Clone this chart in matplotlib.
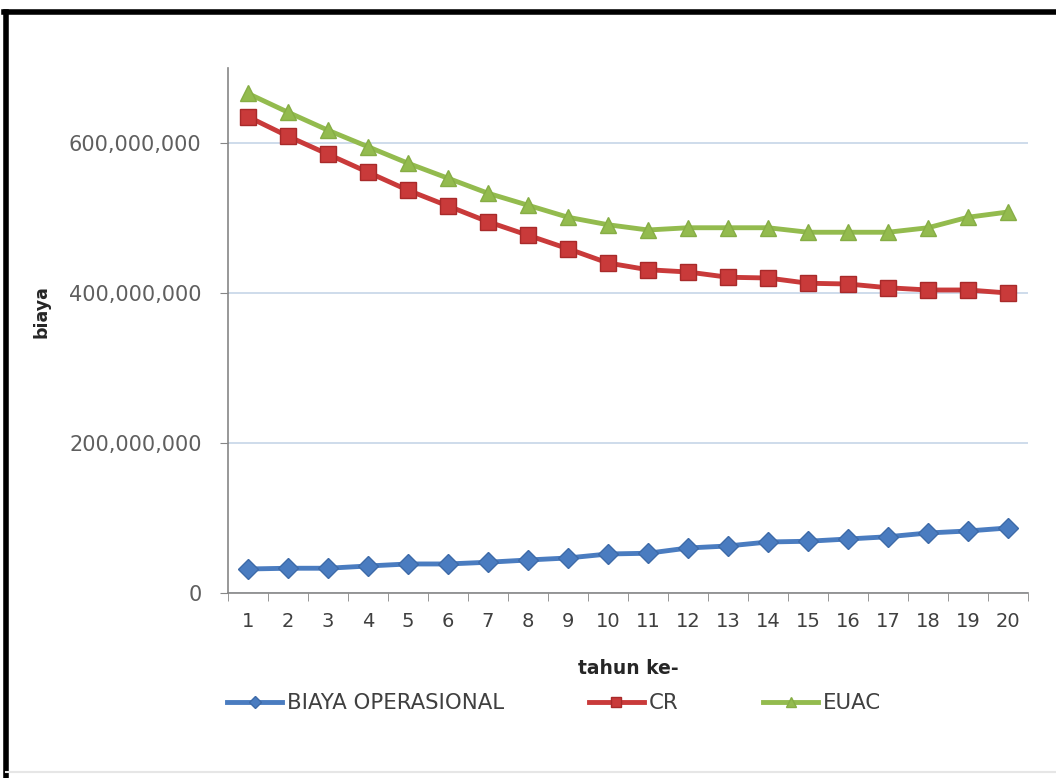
import matplotlib
matplotlib.use("Agg")
import matplotlib.pyplot as plt
from matplotlib.lines import Line2D
from matplotlib.ticker import FuncFormatter, MultipleLocator

# data (rupiah)
tahun = list(range(1, 21))
biaya_operasional = [32e6, 33e6, 33e6, 36e6, 38.7e6, 38.7e6, 41e6, 44e6, 46.7e6, 52e6,
                     53e6, 60e6, 62.7e6, 68e6, 69e6, 72e6, 75e6, 80e6, 82.7e6, 86.7e6]
cr = [635e6, 609e6, 585e6, 561e6, 537e6, 516e6, 495e6, 477e6, 459e6, 440e6,
      431e6, 428e6, 421e6, 420e6, 413e6, 412e6, 407e6, 404e6, 404e6, 400e6]
euac = [666e6, 641e6, 617e6, 595e6, 573e6, 553e6, 533e6, 517e6, 501e6, 491e6,
        484e6, 487e6, 487e6, 487e6, 481e6, 481e6, 481e6, 487e6, 501e6, 508e6]

fig = plt.figure(figsize=(10.56, 7.78), dpi=100)
ax = fig.add_axes([0.2159, 0.2378, 0.9735 - 0.2159, 0.9126 - 0.2378])

ax.plot(tahun, biaya_operasional, color="#4a7cc0", lw=3.5, marker="D", ms=10,
        mec="#3d6aa8", label="BIAYA OPERASIONAL")
ax.plot(tahun, cr, color="#c93a3a", lw=3.5, marker="s", ms=12,
        mec="#a82a2a", label="CR")
ax.plot(tahun, euac, color="#93bb4e", lw=3.5, marker="^", ms=12,
        mec="#86ad45", label="EUAC")

ax.set_xlim(0.5, 20.5)
ax.set_ylim(0, 700e6)
ax.yaxis.set_major_locator(MultipleLocator(200e6))
ax.yaxis.set_major_formatter(FuncFormatter(lambda v, p: f"{v:,.0f}"))
ax.set_xticks(tahun)
ax.set_xticklabels([str(t) for t in tahun], fontsize=14, color="#404040")
ax.set_xticks([t + 0.5 for t in range(0, 21)], minor=True)
ax.tick_params(axis="x", which="major", length=0, pad=14)
ax.tick_params(axis="x", which="minor", length=6, color="#868686")
ax.tick_params(axis="y", length=6, color="#868686", labelsize=15, labelcolor="#5f5f5f", pad=13)

ax.grid(axis="y", color="#c6d5e8", lw=1.2)
ax.set_axisbelow(True)
for s in ["top", "right"]:
    ax.spines[s].set_visible(False)
for s in ["left", "bottom"]:
    ax.spines[s].set_color("#868686")
    ax.spines[s].set_linewidth(1.2)

ax.set_xlabel("tahun ke-", fontsize=13.5, fontweight="bold", color="#262626", labelpad=20)
ax.set_ylabel("biaya", fontsize=12.5, fontweight="bold", color="#262626")
ax.yaxis.set_label_coords(-0.222, 0.537)

fig.legend(loc="center left", bbox_to_anchor=(0.197, 0.0964), ncol=3, frameon=False,
           prop={"size": 15.3}, handlelength=2.6, columnspacing=4.0,
           handletextpad=0.2, labelcolor="#404040", markerscale=0.6)

# black frame of the screenshot (top and left edges)
fig.add_artist(Line2D([0.0061, 0.0061], [0, 0.984], color="black", lw=4, transform=fig.transFigure))
fig.add_artist(Line2D([0.0042, 1.0], [0.984, 0.984], color="black", lw=4, transform=fig.transFigure))
fig.add_artist(Line2D([0.0061, 1.0], [0.008, 0.008], color="#e6e6e6", lw=1.5, transform=fig.transFigure))

fig.savefig("out.png", dpi=100)
